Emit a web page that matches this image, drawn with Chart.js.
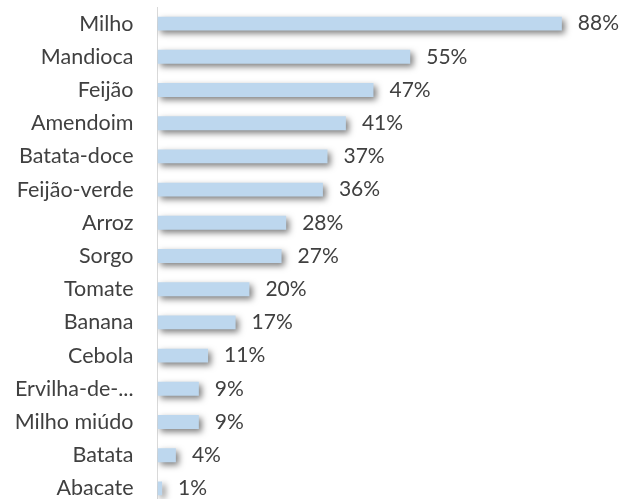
<!DOCTYPE html>
<html>
<head>
<meta charset="utf-8">
<script src="https://cdn.jsdelivr.net/npm/chart.js@4/dist/chart.umd.min.js"></script>
<style>
html,body{margin:0;padding:0;background:#fff;overflow:hidden;}
canvas{display:block;}
</style>
</head>
<body>
<canvas id="c" width="621" height="505" style="width:621px;height:505px;"></canvas>
<script>
const categories = ["Milho","Mandioca","Feijão","Amendoim","Batata-doce","Feijão-verde","Arroz","Sorgo","Tomate","Banana","Cebola","Ervilha-de-...","Milho miúdo","Batata","Abacate"];
const values = [88,55,47,41,37,36,28,27,20,17,11,9,9,4,1];
const valueSuffix = "%";

const shadowPlugin = {
  id: 'barShadow',
  beforeDatasetsDraw(chart) {
    const ctx = chart.ctx;
    ctx.save();
    ctx.shadowColor = 'rgba(0,0,0,0.5)';
    ctx.shadowBlur = 6;
    ctx.shadowOffsetX = 3;
    ctx.shadowOffsetY = 3;
  },
  afterDatasetsDraw(chart) {
    chart.ctx.restore();
    const ctx = chart.ctx;
    const meta = chart.getDatasetMeta(0);
    ctx.save();
    ctx.font = '21px Lato, sans-serif';
    ctx.fillStyle = '#404040';
    ctx.textAlign = 'left';
    ctx.textBaseline = 'middle';
    meta.data.forEach((bar, i) => {
      ctx.fillText(values[i] + valueSuffix, bar.x + 16, bar.y);
    });
    ctx.restore();
  }
};

new Chart(document.getElementById('c'), {
  type: 'bar',
  data: {
    labels: categories,
    datasets: [{
      data: values,
      backgroundColor: '#bdd7ee',
      borderWidth: 0,
      categoryPercentage: 0.84,
      barPercentage: 0.5
    }]
  },
  options: {
    indexAxis: 'y',
    responsive: false,
    maintainAspectRatio: false,
    animation: false,
    layout: { padding: { top: 7, right: 4, left: 0, bottom: 0 } },
    plugins: { legend: { display: false }, tooltip: { enabled: false } },
    scales: {
      x: { display: false, min: 0, max: 100 },
      y: {
        grid: { display: false, drawTicks: false },
        border: { display: true, color: '#d9d9d9', width: 1 },
        ticks: { color: '#404040', font: { family: 'Lato', size: 21.5 }, padding: 24, autoSkip: false },
        afterFit(scale) { scale.width = 157.5; scale.paddingTop = 0; scale.paddingBottom = 0; }
      }
    }
  },
  plugins: [shadowPlugin]
});
</script>
</body>
</html>
